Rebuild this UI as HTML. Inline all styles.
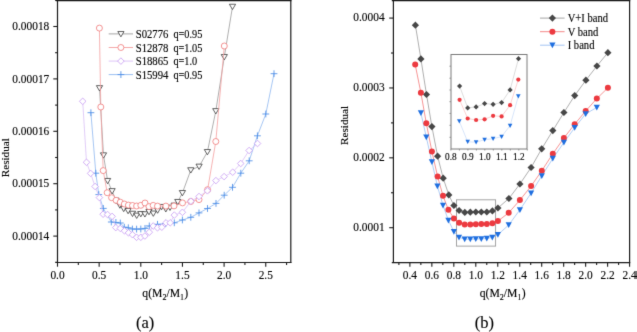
<!DOCTYPE html>
<html><head><meta charset="utf-8"><title>Residual vs q</title>
<style>html,body{margin:0;padding:0;background:#fff;}body{width:637px;height:332px;overflow:hidden;position:relative;font-family:"Liberation Serif",serif;}text{stroke:#000;stroke-width:0.12px;}</style>
</head><body><div id="w" style="position:absolute;left:0;top:0;width:637px;height:332px">
<svg width="637" height="332" viewBox="0 0 637 332" style="position:absolute;left:0;top:0">
<defs><filter id="bl" x="0" y="0" width="1" height="1" filterUnits="objectBoundingBox" color-interpolation-filters="sRGB"><feConvolveMatrix order="3" kernelMatrix="0.01 0.08 0.01 0.08 0.64 0.08 0.01 0.08 0.01" edgeMode="duplicate"/></filter></defs>
<rect width="637" height="332" fill="#fff"/>
<g filter="url(#bl)">
<defs><clipPath id="cl"><rect x="57.5" y="0" width="233.3" height="262.5"/></clipPath><clipPath id="cr"><rect x="393.4" y="0" width="236.2" height="262.6"/></clipPath></defs>
<g clip-path="url(#cl)">
<polyline points="99.5,88.0 103.5,155.2 107.6,180.8 112.1,191.0 116.0,200.5 119.9,205.3 123.7,208.7 128.1,210.8 132.5,213.6 136.7,215.5 140.8,213.9 144.9,214.1 149.0,211.8 153.3,213.4 157.6,210.3 161.6,206.8 165.8,209.0 170.0,207.5 174.1,205.5 177.8,201.8 182.4,192.9 190.8,170.1 199.1,166.5 207.4,151.9 215.8,111.0 224.3,56.9 232.5,6.6" fill="none" stroke="#9a9a9a" stroke-width="0.8"/>
<path d="M96.40 85.64L102.60 85.64L99.50 90.94Z" fill="#fff" stroke="#3a3a3a" stroke-width="0.8"/>
<path d="M100.40 152.84L106.60 152.84L103.50 158.14Z" fill="#fff" stroke="#3a3a3a" stroke-width="0.8"/>
<path d="M104.50 178.44L110.70 178.44L107.60 183.75Z" fill="#fff" stroke="#3a3a3a" stroke-width="0.8"/>
<path d="M109.00 188.64L115.20 188.64L112.10 193.94Z" fill="#fff" stroke="#3a3a3a" stroke-width="0.8"/>
<path d="M112.90 198.14L119.10 198.14L116.00 203.44Z" fill="#fff" stroke="#3a3a3a" stroke-width="0.8"/>
<path d="M116.80 202.94L123.00 202.94L119.90 208.25Z" fill="#fff" stroke="#3a3a3a" stroke-width="0.8"/>
<path d="M120.60 206.34L126.80 206.34L123.70 211.64Z" fill="#fff" stroke="#3a3a3a" stroke-width="0.8"/>
<path d="M125.00 208.44L131.20 208.44L128.10 213.75Z" fill="#fff" stroke="#3a3a3a" stroke-width="0.8"/>
<path d="M129.40 211.24L135.60 211.24L132.50 216.54Z" fill="#fff" stroke="#3a3a3a" stroke-width="0.8"/>
<path d="M133.60 213.14L139.80 213.14L136.70 218.44Z" fill="#fff" stroke="#3a3a3a" stroke-width="0.8"/>
<path d="M137.70 211.54L143.90 211.54L140.80 216.84Z" fill="#fff" stroke="#3a3a3a" stroke-width="0.8"/>
<path d="M141.80 211.74L148.00 211.74L144.90 217.04Z" fill="#fff" stroke="#3a3a3a" stroke-width="0.8"/>
<path d="M145.90 209.44L152.10 209.44L149.00 214.75Z" fill="#fff" stroke="#3a3a3a" stroke-width="0.8"/>
<path d="M150.20 211.04L156.40 211.04L153.30 216.34Z" fill="#fff" stroke="#3a3a3a" stroke-width="0.8"/>
<path d="M154.50 207.94L160.70 207.94L157.60 213.25Z" fill="#fff" stroke="#3a3a3a" stroke-width="0.8"/>
<path d="M158.50 204.44L164.70 204.44L161.60 209.75Z" fill="#fff" stroke="#3a3a3a" stroke-width="0.8"/>
<path d="M162.70 206.64L168.90 206.64L165.80 211.94Z" fill="#fff" stroke="#3a3a3a" stroke-width="0.8"/>
<path d="M166.90 205.14L173.10 205.14L170.00 210.44Z" fill="#fff" stroke="#3a3a3a" stroke-width="0.8"/>
<path d="M171.00 203.14L177.20 203.14L174.10 208.44Z" fill="#fff" stroke="#3a3a3a" stroke-width="0.8"/>
<path d="M174.70 199.44L180.90 199.44L177.80 204.75Z" fill="#fff" stroke="#3a3a3a" stroke-width="0.8"/>
<path d="M179.30 190.54L185.50 190.54L182.40 195.84Z" fill="#fff" stroke="#3a3a3a" stroke-width="0.8"/>
<path d="M187.70 167.74L193.90 167.74L190.80 173.04Z" fill="#fff" stroke="#3a3a3a" stroke-width="0.8"/>
<path d="M196.00 164.14L202.20 164.14L199.10 169.44Z" fill="#fff" stroke="#3a3a3a" stroke-width="0.8"/>
<path d="M204.30 149.54L210.50 149.54L207.40 154.84Z" fill="#fff" stroke="#3a3a3a" stroke-width="0.8"/>
<path d="M212.70 108.64L218.90 108.64L215.80 113.94Z" fill="#fff" stroke="#3a3a3a" stroke-width="0.8"/>
<path d="M221.20 54.54L227.40 54.54L224.30 59.84Z" fill="#fff" stroke="#3a3a3a" stroke-width="0.8"/>
<path d="M229.40 4.24L235.60 4.24L232.50 9.54Z" fill="#fff" stroke="#3a3a3a" stroke-width="0.8"/>
<polyline points="99.4,28.1 100.8,107.0 103.2,170.6 107.2,192.7 111.6,197.7 116.1,200.3 120.3,202.2 124.3,204.0 128.4,205.1 132.5,205.5 136.6,206.0 140.8,205.3 145.0,203.0 149.0,206.6 153.2,205.4 157.5,206.1 165.9,206.1 174.0,205.9 182.5,202.9 190.8,201.5 199.0,199.6 207.6,189.7 215.8,141.5 224.3,46.0" fill="none" stroke="#f4a0a0" stroke-width="0.8"/>
<circle cx="99.40" cy="28.10" r="3.0" fill="#fff" stroke="#f07878" stroke-width="0.8"/>
<circle cx="100.80" cy="107.00" r="3.0" fill="#fff" stroke="#f07878" stroke-width="0.8"/>
<circle cx="103.20" cy="170.60" r="3.0" fill="#fff" stroke="#f07878" stroke-width="0.8"/>
<circle cx="107.20" cy="192.70" r="3.0" fill="#fff" stroke="#f07878" stroke-width="0.8"/>
<circle cx="111.60" cy="197.70" r="3.0" fill="#fff" stroke="#f07878" stroke-width="0.8"/>
<circle cx="116.10" cy="200.30" r="3.0" fill="#fff" stroke="#f07878" stroke-width="0.8"/>
<circle cx="120.30" cy="202.20" r="3.0" fill="#fff" stroke="#f07878" stroke-width="0.8"/>
<circle cx="124.30" cy="204.00" r="3.0" fill="#fff" stroke="#f07878" stroke-width="0.8"/>
<circle cx="128.40" cy="205.10" r="3.0" fill="#fff" stroke="#f07878" stroke-width="0.8"/>
<circle cx="132.50" cy="205.50" r="3.0" fill="#fff" stroke="#f07878" stroke-width="0.8"/>
<circle cx="136.60" cy="206.00" r="3.0" fill="#fff" stroke="#f07878" stroke-width="0.8"/>
<circle cx="140.80" cy="205.30" r="3.0" fill="#fff" stroke="#f07878" stroke-width="0.8"/>
<circle cx="145.00" cy="203.00" r="3.0" fill="#fff" stroke="#f07878" stroke-width="0.8"/>
<circle cx="149.00" cy="206.60" r="3.0" fill="#fff" stroke="#f07878" stroke-width="0.8"/>
<circle cx="153.20" cy="205.40" r="3.0" fill="#fff" stroke="#f07878" stroke-width="0.8"/>
<circle cx="157.50" cy="206.10" r="3.0" fill="#fff" stroke="#f07878" stroke-width="0.8"/>
<circle cx="165.90" cy="206.10" r="3.0" fill="#fff" stroke="#f07878" stroke-width="0.8"/>
<circle cx="174.00" cy="205.90" r="3.0" fill="#fff" stroke="#f07878" stroke-width="0.8"/>
<circle cx="182.50" cy="202.90" r="3.0" fill="#fff" stroke="#f07878" stroke-width="0.8"/>
<circle cx="190.80" cy="201.50" r="3.0" fill="#fff" stroke="#f07878" stroke-width="0.8"/>
<circle cx="199.00" cy="199.60" r="3.0" fill="#fff" stroke="#f07878" stroke-width="0.8"/>
<circle cx="207.60" cy="189.70" r="3.0" fill="#fff" stroke="#f07878" stroke-width="0.8"/>
<circle cx="215.80" cy="141.50" r="3.0" fill="#fff" stroke="#f07878" stroke-width="0.8"/>
<circle cx="224.30" cy="46.00" r="3.0" fill="#fff" stroke="#f07878" stroke-width="0.8"/>
<polyline points="90.9,112.7 95.8,173.2 98.8,194.6 103.3,208.4 111.3,222.0 115.9,222.4 120.3,223.0 124.3,227.2 128.3,227.8 132.4,229.0 136.6,229.1 140.8,229.0 145.0,228.4 149.3,225.9 157.5,224.3 165.8,223.5 174.3,222.8 182.4,220.0 190.8,217.3 199.0,212.9 207.5,208.5 216.0,203.4 224.2,195.2 232.5,187.3 240.8,173.2 249.2,160.8 257.4,135.8 265.8,114.0 274.0,73.7" fill="none" stroke="#8fb8f0" stroke-width="0.8"/>
<path d="M87.50 112.70H94.30M90.90 109.30V116.10" stroke="#4a8ce6" stroke-width="0.85" fill="none"/>
<path d="M92.40 173.20H99.20M95.80 169.80V176.60" stroke="#4a8ce6" stroke-width="0.85" fill="none"/>
<path d="M95.40 194.60H102.20M98.80 191.20V198.00" stroke="#4a8ce6" stroke-width="0.85" fill="none"/>
<path d="M99.90 208.40H106.70M103.30 205.00V211.80" stroke="#4a8ce6" stroke-width="0.85" fill="none"/>
<path d="M107.90 222.00H114.70M111.30 218.60V225.40" stroke="#4a8ce6" stroke-width="0.85" fill="none"/>
<path d="M112.50 222.40H119.30M115.90 219.00V225.80" stroke="#4a8ce6" stroke-width="0.85" fill="none"/>
<path d="M116.90 223.00H123.70M120.30 219.60V226.40" stroke="#4a8ce6" stroke-width="0.85" fill="none"/>
<path d="M120.90 227.20H127.70M124.30 223.80V230.60" stroke="#4a8ce6" stroke-width="0.85" fill="none"/>
<path d="M124.90 227.80H131.70M128.30 224.40V231.20" stroke="#4a8ce6" stroke-width="0.85" fill="none"/>
<path d="M129.00 229.00H135.80M132.40 225.60V232.40" stroke="#4a8ce6" stroke-width="0.85" fill="none"/>
<path d="M133.20 229.10H140.00M136.60 225.70V232.50" stroke="#4a8ce6" stroke-width="0.85" fill="none"/>
<path d="M137.40 229.00H144.20M140.80 225.60V232.40" stroke="#4a8ce6" stroke-width="0.85" fill="none"/>
<path d="M141.60 228.40H148.40M145.00 225.00V231.80" stroke="#4a8ce6" stroke-width="0.85" fill="none"/>
<path d="M145.90 225.90H152.70M149.30 222.50V229.30" stroke="#4a8ce6" stroke-width="0.85" fill="none"/>
<path d="M154.10 224.30H160.90M157.50 220.90V227.70" stroke="#4a8ce6" stroke-width="0.85" fill="none"/>
<path d="M162.40 223.50H169.20M165.80 220.10V226.90" stroke="#4a8ce6" stroke-width="0.85" fill="none"/>
<path d="M170.90 222.80H177.70M174.30 219.40V226.20" stroke="#4a8ce6" stroke-width="0.85" fill="none"/>
<path d="M179.00 220.00H185.80M182.40 216.60V223.40" stroke="#4a8ce6" stroke-width="0.85" fill="none"/>
<path d="M187.40 217.30H194.20M190.80 213.90V220.70" stroke="#4a8ce6" stroke-width="0.85" fill="none"/>
<path d="M195.60 212.90H202.40M199.00 209.50V216.30" stroke="#4a8ce6" stroke-width="0.85" fill="none"/>
<path d="M204.10 208.50H210.90M207.50 205.10V211.90" stroke="#4a8ce6" stroke-width="0.85" fill="none"/>
<path d="M212.60 203.40H219.40M216.00 200.00V206.80" stroke="#4a8ce6" stroke-width="0.85" fill="none"/>
<path d="M220.80 195.20H227.60M224.20 191.80V198.60" stroke="#4a8ce6" stroke-width="0.85" fill="none"/>
<path d="M229.10 187.30H235.90M232.50 183.90V190.70" stroke="#4a8ce6" stroke-width="0.85" fill="none"/>
<path d="M237.40 173.20H244.20M240.80 169.80V176.60" stroke="#4a8ce6" stroke-width="0.85" fill="none"/>
<path d="M245.80 160.80H252.60M249.20 157.40V164.20" stroke="#4a8ce6" stroke-width="0.85" fill="none"/>
<path d="M254.00 135.80H260.80M257.40 132.40V139.20" stroke="#4a8ce6" stroke-width="0.85" fill="none"/>
<path d="M262.40 114.00H269.20M265.80 110.60V117.40" stroke="#4a8ce6" stroke-width="0.85" fill="none"/>
<path d="M270.60 73.70H277.40M274.00 70.30V77.10" stroke="#4a8ce6" stroke-width="0.85" fill="none"/>
<polyline points="82.7,101.3 86.5,162.3 90.6,173.4 95.1,186.5 99.4,197.6 103.1,214.2 107.5,214.5 112.1,216.4 115.8,227.6 120.3,228.4 124.5,230.8 128.5,232.8 132.5,234.7 136.6,237.3 140.8,237.3 144.9,236.0 149.3,232.2 153.2,226.0 157.5,227.8 161.8,227.2 166.0,222.8 170.2,222.8 174.3,215.1 182.4,212.3 190.9,201.2 199.0,196.5 207.4,190.8 215.9,180.6 224.1,176.6 232.7,172.2 240.7,163.5 249.1,150.5 257.5,143.5" fill="none" stroke="#d9c0f6" stroke-width="0.8"/>
<path d="M82.70 98.00L86.00 101.30L82.70 104.60L79.40 101.30Z" fill="#fff" stroke="#c79af2" stroke-width="0.8"/>
<path d="M86.50 159.00L89.80 162.30L86.50 165.60L83.20 162.30Z" fill="#fff" stroke="#c79af2" stroke-width="0.8"/>
<path d="M90.60 170.10L93.90 173.40L90.60 176.70L87.30 173.40Z" fill="#fff" stroke="#c79af2" stroke-width="0.8"/>
<path d="M95.10 183.20L98.40 186.50L95.10 189.80L91.80 186.50Z" fill="#fff" stroke="#c79af2" stroke-width="0.8"/>
<path d="M99.40 194.30L102.70 197.60L99.40 200.90L96.10 197.60Z" fill="#fff" stroke="#c79af2" stroke-width="0.8"/>
<path d="M103.10 210.90L106.40 214.20L103.10 217.50L99.80 214.20Z" fill="#fff" stroke="#c79af2" stroke-width="0.8"/>
<path d="M107.50 211.20L110.80 214.50L107.50 217.80L104.20 214.50Z" fill="#fff" stroke="#c79af2" stroke-width="0.8"/>
<path d="M112.10 213.10L115.40 216.40L112.10 219.70L108.80 216.40Z" fill="#fff" stroke="#c79af2" stroke-width="0.8"/>
<path d="M115.80 224.30L119.10 227.60L115.80 230.90L112.50 227.60Z" fill="#fff" stroke="#c79af2" stroke-width="0.8"/>
<path d="M120.30 225.10L123.60 228.40L120.30 231.70L117.00 228.40Z" fill="#fff" stroke="#c79af2" stroke-width="0.8"/>
<path d="M124.50 227.50L127.80 230.80L124.50 234.10L121.20 230.80Z" fill="#fff" stroke="#c79af2" stroke-width="0.8"/>
<path d="M128.50 229.50L131.80 232.80L128.50 236.10L125.20 232.80Z" fill="#fff" stroke="#c79af2" stroke-width="0.8"/>
<path d="M132.50 231.40L135.80 234.70L132.50 238.00L129.20 234.70Z" fill="#fff" stroke="#c79af2" stroke-width="0.8"/>
<path d="M136.60 234.00L139.90 237.30L136.60 240.60L133.30 237.30Z" fill="#fff" stroke="#c79af2" stroke-width="0.8"/>
<path d="M140.80 234.00L144.10 237.30L140.80 240.60L137.50 237.30Z" fill="#fff" stroke="#c79af2" stroke-width="0.8"/>
<path d="M144.90 232.70L148.20 236.00L144.90 239.30L141.60 236.00Z" fill="#fff" stroke="#c79af2" stroke-width="0.8"/>
<path d="M149.30 228.90L152.60 232.20L149.30 235.50L146.00 232.20Z" fill="#fff" stroke="#c79af2" stroke-width="0.8"/>
<path d="M153.20 222.70L156.50 226.00L153.20 229.30L149.90 226.00Z" fill="#fff" stroke="#c79af2" stroke-width="0.8"/>
<path d="M157.50 224.50L160.80 227.80L157.50 231.10L154.20 227.80Z" fill="#fff" stroke="#c79af2" stroke-width="0.8"/>
<path d="M161.80 223.90L165.10 227.20L161.80 230.50L158.50 227.20Z" fill="#fff" stroke="#c79af2" stroke-width="0.8"/>
<path d="M166.00 219.50L169.30 222.80L166.00 226.10L162.70 222.80Z" fill="#fff" stroke="#c79af2" stroke-width="0.8"/>
<path d="M170.20 219.50L173.50 222.80L170.20 226.10L166.90 222.80Z" fill="#fff" stroke="#c79af2" stroke-width="0.8"/>
<path d="M174.30 211.80L177.60 215.10L174.30 218.40L171.00 215.10Z" fill="#fff" stroke="#c79af2" stroke-width="0.8"/>
<path d="M182.40 209.00L185.70 212.30L182.40 215.60L179.10 212.30Z" fill="#fff" stroke="#c79af2" stroke-width="0.8"/>
<path d="M190.90 197.90L194.20 201.20L190.90 204.50L187.60 201.20Z" fill="#fff" stroke="#c79af2" stroke-width="0.8"/>
<path d="M199.00 193.20L202.30 196.50L199.00 199.80L195.70 196.50Z" fill="#fff" stroke="#c79af2" stroke-width="0.8"/>
<path d="M207.40 187.50L210.70 190.80L207.40 194.10L204.10 190.80Z" fill="#fff" stroke="#c79af2" stroke-width="0.8"/>
<path d="M215.90 177.30L219.20 180.60L215.90 183.90L212.60 180.60Z" fill="#fff" stroke="#c79af2" stroke-width="0.8"/>
<path d="M224.10 173.30L227.40 176.60L224.10 179.90L220.80 176.60Z" fill="#fff" stroke="#c79af2" stroke-width="0.8"/>
<path d="M232.70 168.90L236.00 172.20L232.70 175.50L229.40 172.20Z" fill="#fff" stroke="#c79af2" stroke-width="0.8"/>
<path d="M240.70 160.20L244.00 163.50L240.70 166.80L237.40 163.50Z" fill="#fff" stroke="#c79af2" stroke-width="0.8"/>
<path d="M249.10 147.20L252.40 150.50L249.10 153.80L245.80 150.50Z" fill="#fff" stroke="#c79af2" stroke-width="0.8"/>
<path d="M257.50 140.20L260.80 143.50L257.50 146.80L254.20 143.50Z" fill="#fff" stroke="#c79af2" stroke-width="0.8"/>
</g>
<g stroke="#1a1a1a" fill="none">
<path d="M55.8 0.6H291.4" stroke-width="1.4"/>
<path d="M290.8 0V263" stroke-width="1.2"/>
<path d="M57.5 0V263" stroke-width="1.2"/>
<path d="M55.8 262.5H291.4" stroke-width="1.2"/>
<path d="M57.50 262.5V266.70" stroke-width="1.1"/>
<path d="M78.33 262.5V264.90" stroke-width="1.1"/>
<path d="M99.15 262.5V266.70" stroke-width="1.1"/>
<path d="M119.97 262.5V264.90" stroke-width="1.1"/>
<path d="M140.80 262.5V266.70" stroke-width="1.1"/>
<path d="M161.62 262.5V264.90" stroke-width="1.1"/>
<path d="M182.45 262.5V266.70" stroke-width="1.1"/>
<path d="M203.28 262.5V264.90" stroke-width="1.1"/>
<path d="M224.10 262.5V266.70" stroke-width="1.1"/>
<path d="M244.92 262.5V264.90" stroke-width="1.1"/>
<path d="M265.75 262.5V266.70" stroke-width="1.1"/>
<path d="M286.57 262.5V264.90" stroke-width="1.1"/>
<path d="M57.5 262.30H55.10" stroke-width="1.1"/>
<path d="M57.5 236.10H53.30" stroke-width="1.1"/>
<path d="M57.5 209.90H55.10" stroke-width="1.1"/>
<path d="M57.5 183.70H53.30" stroke-width="1.1"/>
<path d="M57.5 157.50H55.10" stroke-width="1.1"/>
<path d="M57.5 131.30H53.30" stroke-width="1.1"/>
<path d="M57.5 105.10H55.10" stroke-width="1.1"/>
<path d="M57.5 78.90H53.30" stroke-width="1.1"/>
<path d="M57.5 52.70H55.10" stroke-width="1.1"/>
<path d="M57.5 26.50H53.30" stroke-width="1.1"/>
<path d="M57.5 0.30H55.10" stroke-width="1.1"/>
</g>
<g font-family='"Liberation Serif", serif' font-size="11.4" fill="#000">
<text transform="translate(57.50 279.10) scale(1.000 1.080)" text-anchor="middle">0.0</text>
<text transform="translate(99.15 279.10) scale(1.000 1.080)" text-anchor="middle">0.5</text>
<text transform="translate(140.80 279.10) scale(1.000 1.080)" text-anchor="middle">1.0</text>
<text transform="translate(182.45 279.10) scale(1.000 1.080)" text-anchor="middle">1.5</text>
<text transform="translate(224.10 279.10) scale(1.000 1.080)" text-anchor="middle">2.0</text>
<text transform="translate(265.75 279.10) scale(1.000 1.080)" text-anchor="middle">2.5</text>
<text transform="translate(49.30 30.10) scale(1.000 1.080)" text-anchor="end">0.00018</text>
<text transform="translate(49.30 82.50) scale(1.000 1.080)" text-anchor="end">0.00017</text>
<text transform="translate(49.30 134.90) scale(1.000 1.080)" text-anchor="end">0.00016</text>
<text transform="translate(49.30 187.30) scale(1.000 1.080)" text-anchor="end">0.00015</text>
<text transform="translate(49.30 239.70) scale(1.000 1.080)" text-anchor="end">0.00014</text>
</g>
<text transform="translate(9,157.7) rotate(-90)" font-family='"Liberation Serif", serif' font-size="11.2" text-anchor="middle">Residual</text>
<text transform="translate(142.30 296.50) scale(1.000 1.080)" font-size="11.7" font-family='"Liberation Serif", serif'>q(M<tspan font-size="8" dy="2.9">2</tspan><tspan dy="-2.9">/M</tspan><tspan font-size="8" dy="2.9">1</tspan><tspan dy="-2.9" dx="0.2">)</tspan></text>
<path d="M108.7 33.9H133" stroke="#9a9a9a" stroke-width="0.9"/>
<path d="M117.80 31.54L124.00 31.54L120.90 36.84Z" fill="#fff" stroke="#3a3a3a" stroke-width="0.8"/>
<text transform="translate(135.70 37.90) scale(1.000 1.080)" font-size="10.9" font-family='"Liberation Serif", serif' textLength="32.7" lengthAdjust="spacingAndGlyphs">S02776</text>
<text transform="translate(173.40 37.90) scale(0.945 1.080)" font-size="10.9" font-family='"Liberation Serif", serif'>q=0.95</text>
<path d="M108.7 47.5H133" stroke="#f4a0a0" stroke-width="0.9"/>
<circle cx="120.90" cy="47.50" r="3.0" fill="#fff" stroke="#f07878" stroke-width="0.8"/>
<text transform="translate(135.70 51.50) scale(1.000 1.080)" font-size="10.9" font-family='"Liberation Serif", serif' textLength="32.7" lengthAdjust="spacingAndGlyphs">S12878</text>
<text transform="translate(173.40 51.50) scale(0.945 1.080)" font-size="10.9" font-family='"Liberation Serif", serif'>q=1.05</text>
<path d="M108.7 61.1H133" stroke="#d9c0f6" stroke-width="0.9"/>
<path d="M120.90 57.80L124.20 61.10L120.90 64.40L117.60 61.10Z" fill="#fff" stroke="#c79af2" stroke-width="0.8"/>
<text transform="translate(135.70 65.10) scale(1.000 1.080)" font-size="10.9" font-family='"Liberation Serif", serif' textLength="32.7" lengthAdjust="spacingAndGlyphs">S18865</text>
<text transform="translate(173.40 65.10) scale(0.945 1.080)" font-size="10.9" font-family='"Liberation Serif", serif'>q=1.0</text>
<path d="M108.7 74.6H133" stroke="#8fb8f0" stroke-width="0.9"/>
<path d="M117.50 74.60H124.30M120.90 71.20V78.00" stroke="#4a8ce6" stroke-width="0.85" fill="none"/>
<text transform="translate(135.70 78.60) scale(1.000 1.080)" font-size="10.9" font-family='"Liberation Serif", serif' textLength="32.7" lengthAdjust="spacingAndGlyphs">S15994</text>
<text transform="translate(173.40 78.60) scale(0.945 1.080)" font-size="10.9" font-family='"Liberation Serif", serif'>q=0.95</text>
<text x="145.1" y="328.2" font-family='"Liberation Serif", serif' font-size="16.5" text-anchor="middle">(a)</text>
<rect x="456.5" y="199.8" width="39.1" height="46.3" fill="none" stroke="#9a9a9a" stroke-width="0.9"/>
<g clip-path="url(#cr)">
<polyline points="415.4,25.2 420.9,58.9 426.5,94.5 431.9,126.6 437.6,156.2 443.2,178.2 448.8,194.9 453.9,205.5 459.1,210.5 464.8,212.4 470.3,212.2 475.8,212.0 481.3,212.0 486.8,212.0 492.4,210.9 497.9,208.0 508.9,198.5 519.9,184.0 531.1,167.5 541.7,148.8 552.8,130.6 563.9,112.5 574.7,95.6 585.9,80.2 596.9,66.0 607.9,52.7" fill="none" stroke="#9a9a9a" stroke-width="0.8"/>
<polyline points="415.2,64.6 420.9,92.8 426.3,123.2 431.9,151.4 437.6,176.5 443.0,195.8 448.4,209.7 453.9,218.4 459.1,222.7 464.7,224.4 470.3,224.5 475.8,224.3 481.3,224.0 486.8,224.0 492.4,223.2 497.9,221.1 508.7,212.8 519.9,200.1 531.1,186.1 541.8,170.7 552.8,153.8 563.9,138.0 574.7,124.2 585.7,111.0 596.8,98.6 607.9,87.8" fill="none" stroke="#f47a7a" stroke-width="0.8"/>
<polyline points="420.9,113.0 426.3,137.1 431.9,162.0 437.4,186.1 443.0,205.3 448.4,220.3 453.9,231.6 459.0,237.3 464.7,239.2 470.3,239.2 475.8,239.0 481.3,238.8 486.8,238.5 492.3,237.3 497.9,234.7 508.7,225.0 519.9,209.8 531.1,193.1 541.8,175.8 552.8,158.5 563.9,142.5 574.7,127.7 585.7,113.8 596.8,107.5" fill="none" stroke="#9cc0f2" stroke-width="0.8"/>
<path d="M415.40 21.60L419.00 25.20L415.40 28.80L411.80 25.20Z" fill="#474747"/>
<path d="M420.90 55.30L424.50 58.90L420.90 62.50L417.30 58.90Z" fill="#474747"/>
<path d="M426.50 90.90L430.10 94.50L426.50 98.10L422.90 94.50Z" fill="#474747"/>
<path d="M431.90 123.00L435.50 126.60L431.90 130.20L428.30 126.60Z" fill="#474747"/>
<path d="M437.60 152.60L441.20 156.20L437.60 159.80L434.00 156.20Z" fill="#474747"/>
<path d="M443.20 174.60L446.80 178.20L443.20 181.80L439.60 178.20Z" fill="#474747"/>
<path d="M448.80 191.30L452.40 194.90L448.80 198.50L445.20 194.90Z" fill="#474747"/>
<path d="M453.90 201.90L457.50 205.50L453.90 209.10L450.30 205.50Z" fill="#474747"/>
<path d="M459.10 206.90L462.70 210.50L459.10 214.10L455.50 210.50Z" fill="#474747"/>
<path d="M464.80 208.80L468.40 212.40L464.80 216.00L461.20 212.40Z" fill="#474747"/>
<path d="M470.30 208.60L473.90 212.20L470.30 215.80L466.70 212.20Z" fill="#474747"/>
<path d="M475.80 208.40L479.40 212.00L475.80 215.60L472.20 212.00Z" fill="#474747"/>
<path d="M481.30 208.40L484.90 212.00L481.30 215.60L477.70 212.00Z" fill="#474747"/>
<path d="M486.80 208.40L490.40 212.00L486.80 215.60L483.20 212.00Z" fill="#474747"/>
<path d="M492.40 207.30L496.00 210.90L492.40 214.50L488.80 210.90Z" fill="#474747"/>
<path d="M497.90 204.40L501.50 208.00L497.90 211.60L494.30 208.00Z" fill="#474747"/>
<path d="M508.90 194.90L512.50 198.50L508.90 202.10L505.30 198.50Z" fill="#474747"/>
<path d="M519.90 180.40L523.50 184.00L519.90 187.60L516.30 184.00Z" fill="#474747"/>
<path d="M531.10 163.90L534.70 167.50L531.10 171.10L527.50 167.50Z" fill="#474747"/>
<path d="M541.70 145.20L545.30 148.80L541.70 152.40L538.10 148.80Z" fill="#474747"/>
<path d="M552.80 127.00L556.40 130.60L552.80 134.20L549.20 130.60Z" fill="#474747"/>
<path d="M563.90 108.90L567.50 112.50L563.90 116.10L560.30 112.50Z" fill="#474747"/>
<path d="M574.70 92.00L578.30 95.60L574.70 99.20L571.10 95.60Z" fill="#474747"/>
<path d="M585.90 76.60L589.50 80.20L585.90 83.80L582.30 80.20Z" fill="#474747"/>
<path d="M596.90 62.40L600.50 66.00L596.90 69.60L593.30 66.00Z" fill="#474747"/>
<path d="M607.90 49.10L611.50 52.70L607.90 56.30L604.30 52.70Z" fill="#474747"/>
<circle cx="415.20" cy="64.60" r="3.0" fill="#ec3a40"/>
<circle cx="420.90" cy="92.80" r="3.0" fill="#ec3a40"/>
<circle cx="426.30" cy="123.20" r="3.0" fill="#ec3a40"/>
<circle cx="431.90" cy="151.40" r="3.0" fill="#ec3a40"/>
<circle cx="437.60" cy="176.50" r="3.0" fill="#ec3a40"/>
<circle cx="443.00" cy="195.80" r="3.0" fill="#ec3a40"/>
<circle cx="448.40" cy="209.70" r="3.0" fill="#ec3a40"/>
<circle cx="453.90" cy="218.40" r="3.0" fill="#ec3a40"/>
<circle cx="459.10" cy="222.70" r="3.0" fill="#ec3a40"/>
<circle cx="464.70" cy="224.40" r="3.0" fill="#ec3a40"/>
<circle cx="470.30" cy="224.50" r="3.0" fill="#ec3a40"/>
<circle cx="475.80" cy="224.30" r="3.0" fill="#ec3a40"/>
<circle cx="481.30" cy="224.00" r="3.0" fill="#ec3a40"/>
<circle cx="486.80" cy="224.00" r="3.0" fill="#ec3a40"/>
<circle cx="492.40" cy="223.20" r="3.0" fill="#ec3a40"/>
<circle cx="497.90" cy="221.10" r="3.0" fill="#ec3a40"/>
<circle cx="508.70" cy="212.80" r="3.0" fill="#ec3a40"/>
<circle cx="519.90" cy="200.10" r="3.0" fill="#ec3a40"/>
<circle cx="531.10" cy="186.10" r="3.0" fill="#ec3a40"/>
<circle cx="541.80" cy="170.70" r="3.0" fill="#ec3a40"/>
<circle cx="552.80" cy="153.80" r="3.0" fill="#ec3a40"/>
<circle cx="563.90" cy="138.00" r="3.0" fill="#ec3a40"/>
<circle cx="574.70" cy="124.20" r="3.0" fill="#ec3a40"/>
<circle cx="585.70" cy="111.00" r="3.0" fill="#ec3a40"/>
<circle cx="596.80" cy="98.60" r="3.0" fill="#ec3a40"/>
<circle cx="607.90" cy="87.80" r="3.0" fill="#ec3a40"/>
<path d="M417.80 110.36L424.00 110.36L420.90 116.10Z" fill="#1f6fe0"/>
<path d="M423.20 134.47L429.40 134.47L426.30 140.20Z" fill="#1f6fe0"/>
<path d="M428.80 159.37L435.00 159.37L431.90 165.10Z" fill="#1f6fe0"/>
<path d="M434.30 183.47L440.50 183.47L437.40 189.20Z" fill="#1f6fe0"/>
<path d="M439.90 202.67L446.10 202.67L443.00 208.40Z" fill="#1f6fe0"/>
<path d="M445.30 217.67L451.50 217.67L448.40 223.40Z" fill="#1f6fe0"/>
<path d="M450.80 228.97L457.00 228.97L453.90 234.70Z" fill="#1f6fe0"/>
<path d="M455.90 234.67L462.10 234.67L459.00 240.40Z" fill="#1f6fe0"/>
<path d="M461.60 236.56L467.80 236.56L464.70 242.30Z" fill="#1f6fe0"/>
<path d="M467.20 236.56L473.40 236.56L470.30 242.30Z" fill="#1f6fe0"/>
<path d="M472.70 236.37L478.90 236.37L475.80 242.10Z" fill="#1f6fe0"/>
<path d="M478.20 236.17L484.40 236.17L481.30 241.90Z" fill="#1f6fe0"/>
<path d="M483.70 235.87L489.90 235.87L486.80 241.60Z" fill="#1f6fe0"/>
<path d="M489.20 234.67L495.40 234.67L492.30 240.40Z" fill="#1f6fe0"/>
<path d="M494.80 232.06L501.00 232.06L497.90 237.80Z" fill="#1f6fe0"/>
<path d="M505.60 222.37L511.80 222.37L508.70 228.10Z" fill="#1f6fe0"/>
<path d="M516.80 207.17L523.00 207.17L519.90 212.90Z" fill="#1f6fe0"/>
<path d="M528.00 190.47L534.20 190.47L531.10 196.20Z" fill="#1f6fe0"/>
<path d="M538.70 173.17L544.90 173.17L541.80 178.90Z" fill="#1f6fe0"/>
<path d="M549.70 155.87L555.90 155.87L552.80 161.60Z" fill="#1f6fe0"/>
<path d="M560.80 139.87L567.00 139.87L563.90 145.60Z" fill="#1f6fe0"/>
<path d="M571.60 125.06L577.80 125.06L574.70 130.80Z" fill="#1f6fe0"/>
<path d="M582.60 111.16L588.80 111.16L585.70 116.90Z" fill="#1f6fe0"/>
<path d="M593.70 104.86L599.90 104.86L596.80 110.60Z" fill="#1f6fe0"/>
</g>
<rect x="451.0" y="54.5" width="76.0" height="94.5" fill="#fff" stroke="#7a7a7a" stroke-width="1.0"/>
<polyline points="459.6,86.1 467.7,107.9 476.1,106.9 484.6,103.6 493.1,104.3 501.6,102.6 510.1,89.9 518.5,58.7" fill="none" stroke="#c4c4c4" stroke-width="0.6"/>
<polyline points="459.6,99.8 467.7,118.5 476.1,120.0 484.6,119.3 493.1,115.8 501.6,116.4 510.1,105.2 518.3,79.6" fill="none" stroke="#f8b4b4" stroke-width="0.6"/>
<polyline points="459.3,121.3 467.7,141.8 476.1,142.2 484.6,139.7 493.1,138.7 501.6,136.6 510.1,125.6 518.3,96.3" fill="none" stroke="#bcd4f6" stroke-width="0.6"/>
<path d="M459.60 83.50L462.20 86.10L459.60 88.70L457.00 86.10Z" fill="#474747"/>
<path d="M467.70 105.30L470.30 107.90L467.70 110.50L465.10 107.90Z" fill="#474747"/>
<path d="M476.10 104.30L478.70 106.90L476.10 109.50L473.50 106.90Z" fill="#474747"/>
<path d="M484.60 101.00L487.20 103.60L484.60 106.20L482.00 103.60Z" fill="#474747"/>
<path d="M493.10 101.70L495.70 104.30L493.10 106.90L490.50 104.30Z" fill="#474747"/>
<path d="M501.60 100.00L504.20 102.60L501.60 105.20L499.00 102.60Z" fill="#474747"/>
<path d="M510.10 87.30L512.70 89.90L510.10 92.50L507.50 89.90Z" fill="#474747"/>
<path d="M518.50 56.10L521.10 58.70L518.50 61.30L515.90 58.70Z" fill="#474747"/>
<circle cx="459.60" cy="99.80" r="2.1" fill="#ec3a40"/>
<circle cx="467.70" cy="118.50" r="2.1" fill="#ec3a40"/>
<circle cx="476.10" cy="120.00" r="2.1" fill="#ec3a40"/>
<circle cx="484.60" cy="119.30" r="2.1" fill="#ec3a40"/>
<circle cx="493.10" cy="115.80" r="2.1" fill="#ec3a40"/>
<circle cx="501.60" cy="116.40" r="2.1" fill="#ec3a40"/>
<circle cx="510.10" cy="105.20" r="2.1" fill="#ec3a40"/>
<circle cx="518.30" cy="79.60" r="2.1" fill="#ec3a40"/>
<path d="M457.00 119.34L461.60 119.34L459.30 123.60Z" fill="#1f6fe0"/>
<path d="M465.40 139.84L470.00 139.84L467.70 144.10Z" fill="#1f6fe0"/>
<path d="M473.80 140.24L478.40 140.24L476.10 144.50Z" fill="#1f6fe0"/>
<path d="M482.30 137.74L486.90 137.74L484.60 142.00Z" fill="#1f6fe0"/>
<path d="M490.80 136.74L495.40 136.74L493.10 141.00Z" fill="#1f6fe0"/>
<path d="M499.30 134.64L503.90 134.64L501.60 138.90Z" fill="#1f6fe0"/>
<path d="M507.80 123.64L512.40 123.64L510.10 127.90Z" fill="#1f6fe0"/>
<path d="M516.00 94.34L520.60 94.34L518.30 98.60Z" fill="#1f6fe0"/>
<g stroke="#777" stroke-width="0.7">
<path d="M451.0 66.2H449.4"/>
<path d="M451.0 78.2H449.4"/>
<path d="M451.0 90.0H449.4"/>
<path d="M451.0 101.7H449.4"/>
<path d="M451.0 113.4H449.4"/>
<path d="M451.0 125.3H449.4"/>
<path d="M451.0 137.3H449.4"/>
<path d="M450.9 149.0V150.6"/>
<path d="M459.4 149.0V150.6"/>
<path d="M467.9 149.0V150.6"/>
<path d="M476.4 149.0V150.6"/>
<path d="M484.8 149.0V150.6"/>
<path d="M493.3 149.0V150.6"/>
<path d="M501.8 149.0V150.6"/>
<path d="M510.3 149.0V150.6"/>
<path d="M518.8 149.0V150.6"/>
<path d="M527.3 149.0V150.6"/>
</g>
<g font-family='"Liberation Serif", serif' font-size="9.3" fill="#000" text-anchor="middle">
<text transform="translate(450.90 159.60) scale(1.000 1.080)">0.8</text>
<text transform="translate(467.88 159.60) scale(1.000 1.080)">0.9</text>
<text transform="translate(484.85 159.60) scale(1.000 1.080)">1.0</text>
<text transform="translate(501.82 159.60) scale(1.000 1.080)">1.1</text>
<text transform="translate(518.80 159.60) scale(1.000 1.080)">1.2</text>
</g>
<g stroke="#1a1a1a" fill="none">
<path d="M391.8 0.6H630.2" stroke-width="1.4"/>
<path d="M629.6 0V263" stroke-width="1.2"/>
<path d="M393.4 0V263" stroke-width="1.2"/>
<path d="M391.8 262.6H630.2" stroke-width="1.2"/>
<path d="M398.89 262.6V265.00" stroke-width="1.1"/>
<path d="M409.88 262.6V266.80" stroke-width="1.1"/>
<path d="M420.86 262.6V265.00" stroke-width="1.1"/>
<path d="M431.85 262.6V266.80" stroke-width="1.1"/>
<path d="M442.83 262.6V265.00" stroke-width="1.1"/>
<path d="M453.82 262.6V266.80" stroke-width="1.1"/>
<path d="M464.80 262.6V265.00" stroke-width="1.1"/>
<path d="M475.79 262.6V266.80" stroke-width="1.1"/>
<path d="M486.77 262.6V265.00" stroke-width="1.1"/>
<path d="M497.76 262.6V266.80" stroke-width="1.1"/>
<path d="M508.74 262.6V265.00" stroke-width="1.1"/>
<path d="M519.73 262.6V266.80" stroke-width="1.1"/>
<path d="M530.71 262.6V265.00" stroke-width="1.1"/>
<path d="M541.70 262.6V266.80" stroke-width="1.1"/>
<path d="M552.68 262.6V265.00" stroke-width="1.1"/>
<path d="M563.67 262.6V266.80" stroke-width="1.1"/>
<path d="M574.65 262.6V265.00" stroke-width="1.1"/>
<path d="M585.64 262.6V266.80" stroke-width="1.1"/>
<path d="M596.62 262.6V265.00" stroke-width="1.1"/>
<path d="M607.61 262.6V266.80" stroke-width="1.1"/>
<path d="M618.59 262.6V265.00" stroke-width="1.1"/>
<path d="M629.58 262.6V266.80" stroke-width="1.1"/>
<path d="M393.4 227.70H389.20" stroke-width="1.1"/>
<path d="M393.4 192.76H391.00" stroke-width="1.1"/>
<path d="M393.4 157.83H389.20" stroke-width="1.1"/>
<path d="M393.4 122.89H391.00" stroke-width="1.1"/>
<path d="M393.4 87.96H389.20" stroke-width="1.1"/>
<path d="M393.4 53.02H391.00" stroke-width="1.1"/>
<path d="M393.4 18.09H389.20" stroke-width="1.1"/>
</g>
<g font-family='"Liberation Serif", serif' font-size="11.4" fill="#000">
<text transform="translate(409.88 279.10) scale(1.000 1.080)" text-anchor="middle">0.4</text>
<text transform="translate(431.85 279.10) scale(1.000 1.080)" text-anchor="middle">0.6</text>
<text transform="translate(453.82 279.10) scale(1.000 1.080)" text-anchor="middle">0.8</text>
<text transform="translate(475.79 279.10) scale(1.000 1.080)" text-anchor="middle">1.0</text>
<text transform="translate(497.76 279.10) scale(1.000 1.080)" text-anchor="middle">1.2</text>
<text transform="translate(519.73 279.10) scale(1.000 1.080)" text-anchor="middle">1.4</text>
<text transform="translate(541.70 279.10) scale(1.000 1.080)" text-anchor="middle">1.6</text>
<text transform="translate(563.67 279.10) scale(1.000 1.080)" text-anchor="middle">1.8</text>
<text transform="translate(585.64 279.10) scale(1.000 1.080)" text-anchor="middle">2.0</text>
<text transform="translate(607.61 279.10) scale(1.000 1.080)" text-anchor="middle">2.2</text>
<text transform="translate(629.58 279.10) scale(1.000 1.080)" text-anchor="middle">2.4</text>
<text transform="translate(384.60 21.39) scale(1.000 1.080)" text-anchor="end">0.0004</text>
<text transform="translate(384.60 91.26) scale(1.000 1.080)" text-anchor="end">0.0003</text>
<text transform="translate(384.60 161.13) scale(1.000 1.080)" text-anchor="end">0.0002</text>
<text transform="translate(384.60 231.00) scale(1.000 1.080)" text-anchor="end">0.0001</text>
</g>
<text transform="translate(348,125.4) rotate(-90)" font-family='"Liberation Serif", serif' font-size="11.2" text-anchor="middle">Residual</text>
<text transform="translate(479.70 296.50) scale(1.000 1.080)" font-size="11.7" font-family='"Liberation Serif", serif'>q(M<tspan font-size="8" dy="2.9">2</tspan><tspan dy="-2.9">/M</tspan><tspan font-size="8" dy="2.9">1</tspan><tspan dy="-2.9" dx="0.2">)</tspan></text>
<path d="M540 18.1H564.6" stroke="#9a9a9a" stroke-width="0.9"/>
<path d="M552.40 14.50L556.00 18.10L552.40 21.70L548.80 18.10Z" fill="#474747"/>
<text transform="translate(567.70 21.90) scale(1.000 1.080)" font-size="10.6" font-family='"Liberation Serif", serif'>V+I band</text>
<path d="M540 31.7H564.6" stroke="#f47a7a" stroke-width="0.9"/>
<circle cx="552.4" cy="31.7" r="3.0" fill="#ec3a40"/>
<text transform="translate(567.70 35.50) scale(1.000 1.080)" font-size="10.6" font-family='"Liberation Serif", serif'>V band</text>
<path d="M540 45.2H564.6" stroke="#9cc0f2" stroke-width="0.9"/>
<path d="M549.30 42.57L555.50 42.57L552.40 48.30Z" fill="#1f6fe0"/>
<text transform="translate(567.70 49.00) scale(1.000 1.080)" font-size="10.6" font-family='"Liberation Serif", serif'>I band</text>
<text x="484.4" y="328.2" font-family='"Liberation Serif", serif' font-size="16.5" text-anchor="middle">(b)</text>
</g>
</svg>
</div></body></html>
